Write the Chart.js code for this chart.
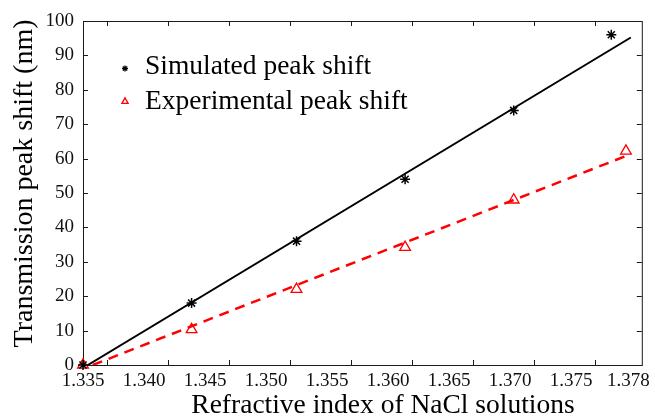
<!DOCTYPE html>
<html>
<head>
<meta charset="utf-8">
<script src="https://cdn.jsdelivr.net/npm/chart.js@4.4.1/dist/chart.umd.min.js"></script>
<style>
  html, body { margin: 0; padding: 0; background: #fff; }
  canvas { display: block; }
</style>
</head>
<body>
<canvas id="peakChart" width="655" height="419"></canvas>
<script>
// Refractive index of NaCl solutions (x) vs transmission peak shift in nm (y)
const simulatedIndex = [1.335, 1.3439, 1.3525, 1.3614, 1.3703, 1.3783];
const simulatedShift = [0, 18, 36, 54, 74, 96];
const experimentalIndex = [1.335, 1.3439, 1.3525, 1.3614, 1.3703, 1.3795];
const experimentalShift = [0, 10.3, 22, 34.2, 48, 62.2];

// linear fits (end points)
const simulatedFitIndex = [1.3354, 1.3799];
const simulatedFitShift = [0, 95.2];
const experimentalFitIndex = [1.3358, 1.3796];
const experimentalFitShift = [0, 60.9];

// axis ticks (the figure puts its last label, 1.378, at the axis end)
const xTickValues = [1.335, 1.340, 1.345, 1.350, 1.355, 1.360, 1.365, 1.370, 1.375, 1.3797];
const xTickLabels = ['1.335', '1.340', '1.345', '1.350', '1.355', '1.360', '1.365', '1.370', '1.375', '1.378'];
const xTickMarks = [1.337, 1.342, 1.347, 1.352, 1.357, 1.362, 1.367, 1.372, 1.377];
const yTickLabels = [0, 10, 20, 30, 40, 50, 60, 70, 80, 90, 100];

const xTitle = 'Refractive index of NaCl solutions';
const yTitle = 'Transmission peak shift (nm)';

const SERIF = '"Liberation Serif", "Times New Roman", serif';
const RED = 'rgb(255, 0, 0)';

function toPoints(xs, ys) {
    return xs.map((x, i) => ({ x: x, y: ys[i] }));
}

// box with inward tick marks, like the original figure
const framePlugin = {
    id: 'frame',
    beforeDatasetsDraw(chart) {
        const { ctx, chartArea: a, scales: { x, y } } = chart;
        ctx.save();
        ctx.strokeStyle = '#1a1a1a';
        ctx.lineWidth = 1;
        ctx.strokeRect(a.left + 0.5, a.top + 0.5, a.right - a.left, a.bottom - a.top);
        ctx.beginPath();
        xTickMarks.forEach(v => {
            const px = Math.round(x.getPixelForValue(v)) + 0.5;
            ctx.moveTo(px, a.bottom); ctx.lineTo(px, a.bottom - 5);
            ctx.moveTo(px, a.top); ctx.lineTo(px, a.top + 5);
        });
        yTickLabels.slice(1, -1).forEach(v => {
            const py = Math.round(y.getPixelForValue(v)) + 0.5;
            ctx.moveTo(a.left, py); ctx.lineTo(a.left + 5, py);
            ctx.moveTo(a.right, py); ctx.lineTo(a.right - 5, py);
        });
        ctx.stroke();
        ctx.restore();
    },
    afterDraw(chart) {
        const { ctx, chartArea: a } = chart;
        ctx.save();
        // legend inside the plot, top left
        const rows = [
            { ds: 0, markY: 68.5, textY: 73.5, radius: 3 },
            { ds: 1, markY: 101.5, textY: 108.5, radius: 3.6 }
        ];
        ctx.font = '27.5px ' + SERIF;
        ctx.textAlign = 'left';
        ctx.textBaseline = 'alphabetic';
        rows.forEach(r => {
            const ds = chart.data.datasets[r.ds];
            ctx.strokeStyle = ds.borderColor;
            ctx.fillStyle = 'rgba(0,0,0,0)';
            ctx.lineWidth = 1.3;
            Chart.helpers.drawPoint(ctx, { pointStyle: ds.pointStyle, radius: r.radius, rotation: 0, borderWidth: 1.3 }, a.left + 42, r.markY);
            ctx.fillStyle = '#000';
            ctx.fillText(ds.label, a.left + 62, r.textY);
        });
        // axis titles
        ctx.textAlign = 'center';
        ctx.fillText(xTitle, 383, 413);
        ctx.font = '28px ' + SERIF;
        ctx.translate(32, 183.5);
        ctx.rotate(-Math.PI / 2);
        ctx.fillText(yTitle, 0, 0);
        ctx.restore();
    }
};

function renderPeakShiftChart() {
    const ctx = document.getElementById('peakChart').getContext('2d');
    Chart.defaults.font.family = SERIF;
    Chart.defaults.color = '#000';

    new Chart(ctx, {
        type: 'scatter',
        data: {
            datasets: [
                {
                    label: 'Simulated peak shift',
                    data: toPoints(simulatedIndex, simulatedShift),
                    pointStyle: 'star',
                    pointRadius: 5,
                    borderColor: '#000',
                    backgroundColor: '#000',
                    borderWidth: 1.5,
                    clip: false
                },
                {
                    label: 'Experimental peak shift',
                    data: toPoints(experimentalIndex, experimentalShift),
                    pointStyle: 'triangle',
                    pointRadius: 6.2,
                    borderColor: RED,
                    backgroundColor: 'rgba(0,0,0,0)',
                    borderWidth: 1.3,
                    clip: false
                },
                {
                    label: 'Simulated fit',
                    data: toPoints(simulatedFitIndex, simulatedFitShift),
                    showLine: true,
                    pointRadius: 0,
                    borderColor: '#000',
                    borderWidth: 2
                },
                {
                    label: 'Experimental fit',
                    data: toPoints(experimentalFitIndex, experimentalFitShift),
                    showLine: true,
                    pointRadius: 0,
                    borderColor: RED,
                    borderWidth: 2.5,
                    borderDash: [10, 7]
                }
            ]
        },
        options: {
            responsive: false,
            animation: false,
            devicePixelRatio: 1,
            layout: {
                padding: { top: 21, right: 10, left: 0, bottom: 0 }
            },
            scales: {
                x: {
                    type: 'linear',
                    min: 1.335,
                    max: 1.3808,
                    afterBuildTicks: scale => {
                        scale.ticks = xTickValues.map(v => ({ value: v }));
                    },
                    afterFit: scale => { scale.height = 54; },
                    grid: { display: false, drawTicks: false },
                    border: { display: false },
                    ticks: {
                        autoSkip: false,
                        maxRotation: 0,
                        padding: 5,
                        color: '#111',
                        font: { size: 19 },
                        callback: (v, i) => xTickLabels[i]
                    }
                },
                y: {
                    min: 0,
                    max: 100,
                    afterBuildTicks: scale => {
                        scale.ticks = yTickLabels.map(v => ({ value: v }));
                    },
                    afterFit: scale => { scale.width = 83; },
                    grid: { display: false, drawTicks: false },
                    border: { display: false },
                    ticks: {
                        padding: 9,
                        color: '#111',
                        font: { size: 19 }
                    }
                }
            },
            plugins: {
                legend: { display: false },
                tooltip: { enabled: false }
            }
        },
        plugins: [framePlugin]
    });
}

document.addEventListener('DOMContentLoaded', function () {
    renderPeakShiftChart();
});
</script>
</body>
</html>
